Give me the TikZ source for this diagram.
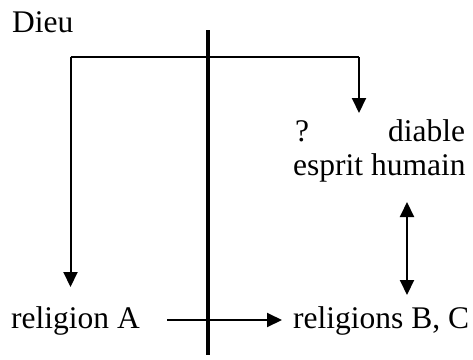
\documentclass[tikz,border=0pt]{standalone}
\usepackage{fontspec}
\setmainfont{Liberation Serif}
\usetikzlibrary{arrows.meta}
\begin{document}
\begin{tikzpicture}[x=1pt,y=-1pt,
  lbl/.style={anchor=base west,inner sep=0pt,font=\fontsize{31.5}{36}\selectfont},
  tip/.tip={Triangle[length=15pt,width=14pt]},
  conn/.style={line width=2pt,-tip},
  plain/.style={line width=2pt},
  bar/.style={line width=3.5pt}]
\useasboundingbox (0,0) rectangle (473,359);
\node[lbl] (dieu) at (12,32) {Dieu};
\node[lbl] (q) at (295,141) {?};
\node[lbl] (diable) at (388,141) {diable};
\node[lbl] (esprit) at (293,175) {esprit humain};
\node[lbl] (relA) at (11,328) {religion A};
\node[lbl] (relBC) at (293,328) {religions B, C};
\coordinate (bartop) at (208,30);
\coordinate (barbot) at (208,355);
\coordinate (hl) at (70.5,57);
\coordinate (hr) at (359,57);
\coordinate (tipR) at (359,113);
\coordinate (tipL) at (70.5,287);
\coordinate (ua) at (407,202);
\coordinate (ub) at (407,295);
\coordinate (as) at (167,320);
\coordinate (ae) at (282,320);
\draw[bar] (bartop) -- (barbot);
\draw[plain] (hl) -- (hr);
\draw[conn] (hr) -- (tipR);
\draw[conn] (hl) -- (tipL);
\draw[conn,tip-tip] (ua) -- (ub);
\draw[conn] (as) -- (ae);
\end{tikzpicture}
\end{document}
